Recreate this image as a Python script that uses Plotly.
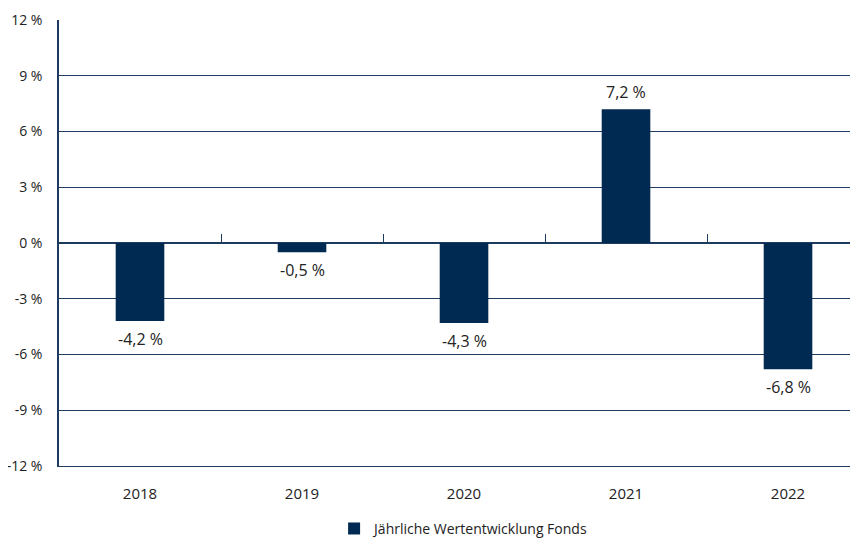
import plotly.graph_objects as go

years = ["2018", "2019", "2020", "2021", "2022"]
values = [-4.2, -0.5, -4.3, 7.2, -6.8]
y_ticks = [-12, -9, -6, -3, 0, 3, 6, 9, 12]
series_name = "Jährliche Wertentwicklung Fonds"

NAVY = "#002a52"
LINE = "#1d3a5f"
TEXT = "#222222"
FONT = "Open Sans"

def fmt(v):
    return f"{v:.1f}".replace(".", ",") + " %"

fig = go.Figure()
fig.add_trace(go.Bar(
    x=list(range(len(years))), y=values, name=series_name,
    marker=dict(color=NAVY, line=dict(width=0)), width=0.3,
    showlegend=True,
))
# dummy trace for the overlay axis carrying the category boundary ticks
fig.add_trace(go.Scatter(x=[None], y=[None], xaxis="x2", showlegend=False, hoverinfo="skip"))

annotations = []
for i, v in enumerate(values):
    annotations.append(dict(
        x=i, y=v, text=fmt(v), showarrow=False,
        yanchor="top" if v < 0 else "bottom",
        yshift=-5 if v < 0 else 4,
        font=dict(family=FONT, size=16, color=TEXT),
    ))

boundaries = [i + 0.5 for i in range(len(years) - 1)]

fig.update_layout(
    width=850, height=531,
    margin=dict(l=51, r=0, t=12, b=73, autoexpand=False),
    paper_bgcolor="white", plot_bgcolor="white",
    font=dict(family=FONT, size=14, color=TEXT),
    xaxis=dict(
        range=[-0.5, 4.432], tickmode="array",
        tickvals=list(range(len(years))), ticktext=years,
        showgrid=False, zeroline=False, automargin=False,
        showline=True, linecolor=LINE, linewidth=1,
        ticks="", ticklabelstandoff=14,
        tickfont=dict(family=FONT, size=15, color=TEXT),
    ),
    xaxis2=dict(
        overlaying="x", anchor="free", position=0.5, side="top",
        range=[-0.5, 4.432], tickmode="array", tickvals=boundaries,
        ticks="outside", ticklen=9, tickwidth=1, tickcolor=LINE, automargin=False,
        showticklabels=False, showgrid=False, zeroline=False, showline=False,
    ),
    yaxis=dict(
        range=[-12, 12], tickmode="array", tickvals=y_ticks,
        ticktext=[f"{t} %" for t in y_ticks], automargin=False,
        showgrid=True, gridcolor=LINE, gridwidth=1,
        zeroline=True, zerolinecolor=LINE, zerolinewidth=1.5,
        showline=True, linecolor=LINE, linewidth=1.5,
        ticks="", ticklabelstandoff=12,
        tickfont=dict(family=FONT, size=14, color=TEXT),
    ),
    legend=dict(
        orientation="h", x=0.507, xanchor="center", y=-0.141, yanchor="middle",
        font=dict(family=FONT, size=14, color=TEXT),
    ),
    annotations=annotations,
)

fig.write_html("out.html")
